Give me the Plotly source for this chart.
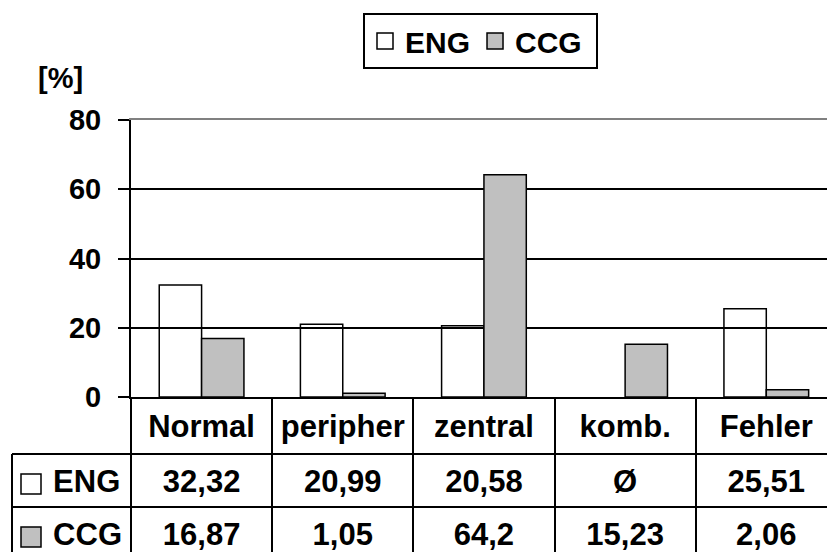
import plotly.graph_objects as go

# ---------------- data ----------------
categories = ["Normal", "peripher", "zentral", "komb.", "Fehler"]
eng_values = [32.32, 20.99, 20.58, None, 25.51]
ccg_values = [16.87, 1.05, 64.2, 15.23, 2.06]
series_names = ["ENG", "CCG"]
y_tick_values = [0, 20, 40, 60, 80]
y_unit_label = "[%]"
missing_mark = "Ø"

# ---------------- styling / layout geometry ----------------
W, H = 827, 552
FONT = "Liberation Sans, Arial, Helvetica, sans-serif"
ENG_FILL = "rgba(255,255,255,0)"
CCG_FILL = "#c0c0c0"
LINE = "black"

plot_left_px, plot_top_px, plot_bottom_px = 131, 120, 397
table_left_px = 12
row_px = 53
ccg_row_top_px = 507
x_hi = 4.43
text_shift = -3.5 / row_px  # small downward nudge of table text

unit_px = (W - plot_left_px) / (x_hi + 0.5)
x2_lo = -0.5 - plot_left_px / unit_px
border_x = -0.5 - (plot_left_px - table_left_px) / unit_px
sym_x = -0.5 - (plot_left_px - 31) / unit_px

y2_lo = 1 - (H - ccg_row_top_px) / row_px
y2_hi = 1 + (ccg_row_top_px - plot_bottom_px) / row_px
header_y = (2 + y2_hi) / 2 + text_shift
eng_row_y = 1.5 + text_shift
ccg_row_y = 0.5 + text_shift


def fmt(v):
    return missing_mark if v is None else f"{v:g}".replace(".", ",")


idx = list(range(len(categories)))
fig = go.Figure()

# bars
for name, vals, fill in [(series_names[0], eng_values, ENG_FILL),
                         (series_names[1], ccg_values, CCG_FILL)]:
    fig.add_trace(go.Bar(
        x=categories, y=vals, name=name, showlegend=False,
        marker=dict(color=fill, line=dict(color=LINE, width=1.5)),
        xaxis="x", yaxis="y", hoverinfo="x+y+name"))

# legend proxies (square symbols)
legend_names = [series_names[0], series_names[1] + "\u00a0"]
for name, fill in [(legend_names[0], "white"), (legend_names[1], CCG_FILL)]:
    fig.add_trace(go.Scatter(
        x=[None], y=[None], name=name, mode="markers",
        marker=dict(symbol="square", size=16, color=fill,
                    line=dict(color=LINE, width=1.5)),
        xaxis="x3", yaxis="y"))

bold = dict(family=FONT, size=31, color="black", weight="bold")

# table: header row
fig.add_trace(go.Scatter(
    x=idx, y=[header_y] * len(idx), text=categories, mode="text",
    textfont=bold, xaxis="x2", yaxis="y2", showlegend=False,
    cliponaxis=False, hoverinfo="skip"))
# table: value rows
for row_y, vals in [(eng_row_y, eng_values), (ccg_row_y, ccg_values)]:
    fig.add_trace(go.Scatter(
        x=idx, y=[row_y] * len(idx), text=[fmt(v) for v in vals],
        mode="text", textfont=bold, xaxis="x2", yaxis="y2",
        showlegend=False, cliponaxis=False, hoverinfo="skip"))
# table: row headers with symbols
fig.add_trace(go.Scatter(
    x=[sym_x, sym_x], y=[eng_row_y, ccg_row_y],
    text=[" " + s for s in series_names],
    mode="markers+text", textposition="middle right",
    marker=dict(symbol="square", size=20, color=["white", CCG_FILL],
                line=dict(color=LINE, width=1.5)),
    textfont=bold, xaxis="x2", yaxis="y2", showlegend=False,
    cliponaxis=False, hoverinfo="skip"))

# table lines
shapes = []
for yv in (1, 2):
    shapes.append(dict(type="line", xref="x2", yref="y2", x0=border_x,
                       x1=x_hi + 1, y0=yv, y1=yv,
                       line=dict(color=LINE, width=2)))
shapes.append(dict(type="line", xref="x2", yref="y2", x0=border_x,
                   x1=border_x, y0=y2_lo - 1, y1=2,
                   line=dict(color=LINE, width=2)))

fig.update_layout(
    width=W, height=H,
    margin=dict(l=0, r=0, t=0, b=0, pad=0, autoexpand=False),
    paper_bgcolor="white", plot_bgcolor="rgba(0,0,0,0)",
    barmode="group", bargap=0.4, bargroupgap=0,
    font=dict(family=FONT, color="black"),
    showlegend=True,
    legend=dict(orientation="h", x=363 / W, xanchor="left",
                y=1 - 13 / H, yanchor="top",
                bordercolor=LINE, borderwidth=2, bgcolor="white",
                font=dict(family=FONT, size=30, color="black", weight="bold"),
                itemclick=False, itemdoubleclick=False),
    xaxis=dict(domain=[plot_left_px / W, 1], range=[-0.5, x_hi],
               type="category", anchor="y",
               showline=True, linecolor=LINE, linewidth=2,
               showticklabels=False, ticks="", showgrid=False,
               zeroline=False, automargin=False),
    xaxis3=dict(overlaying="x", side="top", anchor="y",
                range=[-0.5, x_hi], showline=True, linecolor="#808080",
                linewidth=1.5, showticklabels=False, ticks="",
                showgrid=False, zeroline=False, automargin=False),
    yaxis=dict(domain=[1 - plot_bottom_px / H, 1 - plot_top_px / H],
               range=[0, 80], anchor="x", tickvals=y_tick_values,
               showline=True, linecolor=LINE, linewidth=2,
               ticks="outside", ticklen=11, tickwidth=2, tickcolor=LINE,
               tickfont=dict(family=FONT, size=29, color="black",
                             weight="bold"),
               ticklabelstandoff=11, automargin=False,
               showgrid=True, gridcolor=LINE, gridwidth=1.5,
               zeroline=False),
    xaxis2=dict(domain=[0, 1], range=[x2_lo, x_hi], anchor="y2",
                tickvals=[i - 0.5 for i in idx], showgrid=True,
                gridcolor=LINE, gridwidth=2, showticklabels=False,
                ticks="", zeroline=False, showline=False, automargin=False),
    yaxis2=dict(domain=[0, 1 - plot_bottom_px / H], range=[y2_lo, y2_hi],
                anchor="x2", showgrid=False, showticklabels=False,
                ticks="", zeroline=False, showline=False, automargin=False),
    shapes=shapes,
    annotations=[dict(text=y_unit_label, xref="paper", yref="paper",
                      x=60 / W, y=1 - 78 / H, showarrow=False,
                      xanchor="center", yanchor="middle",
                      font=dict(family=FONT, size=29, color="black",
                                weight="bold"))],
)

fig.write_html("out.html")
